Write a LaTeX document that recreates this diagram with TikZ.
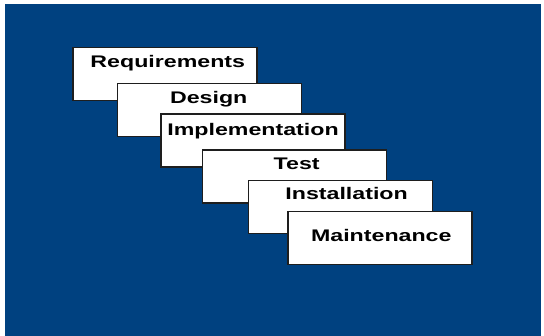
\documentclass[tikz,border=0pt]{standalone}
\usepackage{fontspec}
\newfontfamily\stagefont[FakeStretch=1.38]{Liberation Sans}
\definecolor{slideblue}{RGB}{0,65,128}
\definecolor{boxline}{RGB}{30,30,30}
\tikzset{
  stagebox/.style={draw=boxline, fill=white, line width=1.4pt, inner sep=0pt,
    minimum width=184pt, minimum height=53pt},
  stagetext/.style={anchor=base, inner sep=0pt, text=black,
    font=\stagefont\bfseries\fontsize{16.8}{20}\selectfont}
}
\begin{document}
\begin{tikzpicture}[x=1pt,y=-1pt]
\useasboundingbox (0,0) rectangle (544,336);
\fill[white] (0,0) rectangle (544,336);
\fill[slideblue] (4.5,4.5) rectangle (541,336);
% stages, each one laid over the one before
\node[stagebox] (Req) at (165,74.2) {};
\node[stagetext] at ([xshift=2.8pt,yshift=-20.7pt]Req.north) {Requirements};
\node[stagebox] (Des) at (209.4,110) {};
\node[stagetext] at ([xshift=-0.7pt,yshift=-20.6pt]Des.north) {Design};
\node[stagebox] (Imp) at (252.8,140.6) {};
\node[stagetext] at ([xshift=0.2pt,yshift=-22.4pt]Imp.north) {Implementation};
\node[stagebox] (Tst) at (294.6,176.5) {};
\node[stagetext] at ([xshift=2.1pt,yshift=-19.8pt]Tst.north) {Test};
\node[stagebox] (Ins) at (340.2,207.2) {};
\node[stagetext] at ([xshift=6.4pt,yshift=-20pt]Ins.north) {Installation};
\node[stagebox] (Mnt) at (379.8,238) {};
\node[stagetext] at ([xshift=1.5pt,yshift=-30.3pt]Mnt.north) {Maintenance};
\end{tikzpicture}
\end{document}
